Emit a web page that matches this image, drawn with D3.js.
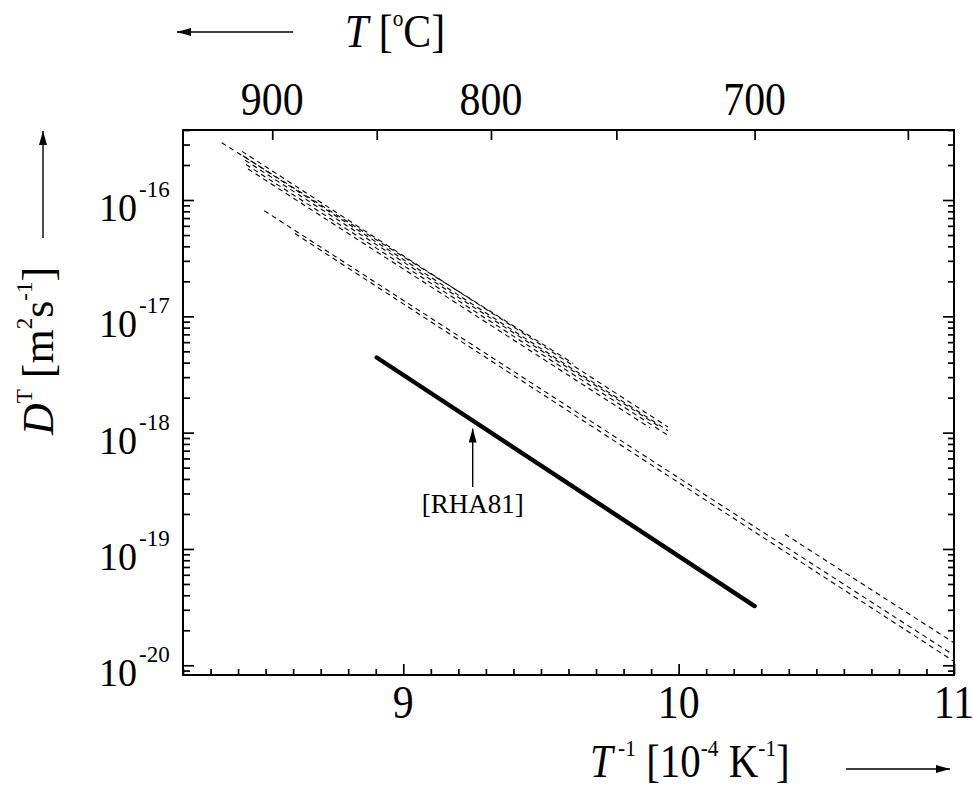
<!DOCTYPE html>
<html>
<head>
<meta charset="utf-8">
<script src="https://cdn.jsdelivr.net/npm/d3@7/dist/d3.min.js"></script>
<style>
  body { margin: 0; background: #fff; }
  svg { display: block; }
  text { font-family: "Liberation Serif", "Times New Roman", serif; fill: #000; }
</style>
</head>
<body>
<svg id="chart" width="973" height="789"></svg>
<script>
// Inverse temperature T^-1 in 10^-4 K^-1, diffusivity D^T in m^2 s^-1.
// Each dashed Arrhenius line is stored by its two end points.
const upper1 = [[8.3405, 3.11e-16], [9.6174, 3.94e-18]];
const upper2 = [[8.4143, 2.62e-16], [9.9613, 1.12e-18]];
const upper3 = [[8.4179, 2.40e-16], [9.9613, 1.04e-18]];
const upper4 = [[8.4252, 2.20e-16], [9.9323, 1.12e-18]];
const upper5 = [[8.4288, 2.02e-16], [9.9577, 9.60e-19]];
const upper6 = [[8.4361, 1.85e-16], [9.8960, 1.10e-18]];
const lower1 = [[8.4952, 8.09e-17], [11.0, 1.22e-20]];
const lower2 = [[8.6067, 5.15e-17], [11.0, 1.08e-20]];
const lowTemp = [[10.386, 1.34e-19], [11.0, 1.56e-20]];

// [RHA81]: 850 °C down to 700 °C
const rha81 = [[8.9035, 4.43e-18], [10.2759, 3.23e-20]];
const rha81Label = "[RHA81]";
const rha81ArrowX = 9.252;

// Axis ticks
const xMajor = [9, 10, 11];
const yDecades = [-20, -19, -18, -17, -16];
const celsiusTicks = [900, 850, 800, 750, 700, 650];
const celsiusLabels = [900, 800, 700];

const svg = d3.select("#chart");
const L = 183, R = 954, T = 130, B = 675;
const SX = 0.89; // horizontal squeeze of the Times-style lettering

const x = d3.scaleLinear().domain([8.2, 11]).range([L, R]);
const y = d3.scaleLog().domain([8.25e-21, 4.0e-16]).range([B, T]);
const toInv = c => 1e4 / (c + 273.15);

// Arrow marker
const defs = svg.append("defs");
defs.append("marker")
  .attr("id", "head")
  .attr("viewBox", "0 0 14 8")
  .attr("refX", 14).attr("refY", 4)
  .attr("markerWidth", 14).attr("markerHeight", 8)
  .attr("markerUnits", "userSpaceOnUse")
  .attr("orient", "auto")
  .append("path").attr("d", "M0,0 L14,4 L0,8 Z").attr("fill", "#000");

// Tick values
const xMinor = d3.range(82, 111).map(v => v / 10).filter(v => !xMajor.includes(v));
const yMajorVals = yDecades.map(e => Math.pow(10, e));
const yMinorVals = [];
for (let e = -21; e <= -16; e++) {
  for (let k = 2; k <= 9; k++) {
    const v = k * Math.pow(10, e);
    if (v >= y.domain()[0] && v <= y.domain()[1]) yMinorVals.push(v);
  }
}

function styleAxis(g) {
  g.select(".domain").remove();
  g.selectAll(".tick line").attr("stroke", "#000").attr("stroke-width", 1.7);
  g.selectAll(".tick text").remove();
}

// Bottom axis (inward ticks)
svg.append("g").attr("transform", `translate(0,${B})`)
  .call(d3.axisBottom(x).tickValues(xMajor).tickSize(-11)).call(styleAxis);
svg.append("g").attr("transform", `translate(0,${B})`)
  .call(d3.axisBottom(x).tickValues(xMinor).tickSize(-6)).call(styleAxis);

// Top axis in °C
svg.append("g").attr("transform", `translate(0,${T})`)
  .call(d3.axisTop(x).tickValues(celsiusTicks.map(toInv)).tickSize(-10)).call(styleAxis);

// Left and right log axes
svg.append("g").attr("transform", `translate(${L},0)`)
  .call(d3.axisLeft(y).tickValues(yMajorVals).tickSize(-11)).call(styleAxis);
svg.append("g").attr("transform", `translate(${L},0)`)
  .call(d3.axisLeft(y).tickValues(yMinorVals).tickSize(-7)).call(styleAxis);
svg.append("g").attr("transform", `translate(${R},0)`)
  .call(d3.axisRight(y).tickValues(yMajorVals).tickSize(-11)).call(styleAxis);
svg.append("g").attr("transform", `translate(${R},0)`)
  .call(d3.axisRight(y).tickValues(yMinorVals).tickSize(-6)).call(styleAxis);

// Frame
svg.append("rect")
  .attr("x", L).attr("y", T).attr("width", R - L).attr("height", B - T)
  .attr("fill", "none").attr("stroke", "#000").attr("stroke-width", 2);

// Tick labels (squeezed horizontally about their own anchor)
svg.append("g").selectAll("text").data(xMajor).join("text")
  .attr("transform", d => `translate(${x(d)},718) scale(${SX},1)`)
  .attr("text-anchor", "middle").attr("font-size", 47)
  .text(d => d);

svg.append("g").selectAll("text").data(celsiusLabels).join("text")
  .attr("transform", d => `translate(${x(toInv(d))},115) scale(${SX},1)`)
  .attr("text-anchor", "middle").attr("font-size", 47)
  .text(d => d);

const yLab = svg.append("g").selectAll("g").data(yDecades).join("g");
yLab.append("text")
  .attr("transform", d => `translate(137,${y(Math.pow(10, d)) + 21}) scale(0.93,1)`)
  .attr("text-anchor", "end").attr("font-size", 41)
  .text("10");
yLab.append("text")
  .attr("transform", d => `translate(139,${y(Math.pow(10, d)) - 3})`)
  .attr("text-anchor", "start").attr("font-size", 23)
  .text(d => d);

// Data lines
const line = d3.line().x(d => x(d[0])).y(d => y(d[1]));
const dashed = [upper1, upper2, upper3, upper4, upper5, upper6, lower1, lower2, lowTemp];
svg.append("g").selectAll("path").data(dashed).join("path")
  .attr("d", line)
  .attr("fill", "none").attr("stroke", "#000").attr("stroke-width", 1.1)
  .attr("stroke-dasharray", "5,4");

svg.append("path").datum(rha81)
  .attr("d", line)
  .attr("fill", "none").attr("stroke", "#000").attr("stroke-width", 4.4)
  .attr("stroke-linecap", "round");

// Annotation arrow pointing at the RHA81 line
const t = (rha81ArrowX - rha81[0][0]) / (rha81[1][0] - rha81[0][0]);
const lineLogY = Math.log10(rha81[0][1]) + t * (Math.log10(rha81[1][1]) - Math.log10(rha81[0][1]));
const tipY = y(Math.pow(10, lineLogY)) + 8;
svg.append("line")
  .attr("x1", x(rha81ArrowX)).attr("x2", x(rha81ArrowX))
  .attr("y1", 487).attr("y2", tipY)
  .attr("stroke", "#000").attr("stroke-width", 1.4)
  .attr("marker-end", "url(#head)");
svg.append("text")
  .attr("x", x(rha81ArrowX)).attr("y", 513)
  .attr("text-anchor", "middle").attr("font-size", 27)
  .text(rha81Label);

// Axis titles
const topTitle = svg.append("text")
  .attr("transform", `translate(345,47) scale(${SX},1)`).attr("font-size", 47);
topTitle.append("tspan").attr("font-style", "italic").text("T");
topTitle.append("tspan").text(" [");
topTitle.append("tspan").attr("font-size", 24).attr("dy", -21).text("o");
topTitle.append("tspan").attr("dy", 21).text("C]");
svg.append("line").attr("x1", 293).attr("x2", 177).attr("y1", 32).attr("y2", 32)
  .attr("stroke", "#000").attr("stroke-width", 1.4).attr("marker-end", "url(#head)");

const bottomTitle = svg.append("text")
  .attr("transform", `translate(590,777) scale(${SX},1)`).attr("font-size", 46);
bottomTitle.append("tspan").attr("font-style", "italic").text("T");
bottomTitle.append("tspan").attr("font-size", 24).attr("dy", -21).text(" -1");
bottomTitle.append("tspan").attr("dy", 21).text(" [10");
bottomTitle.append("tspan").attr("font-size", 24).attr("dy", -21).text("-4");
bottomTitle.append("tspan").attr("dy", 21).text(" K");
bottomTitle.append("tspan").attr("font-size", 24).attr("dy", -21).text("-1");
bottomTitle.append("tspan").attr("dy", 21).text("]");
svg.append("line").attr("x1", 846).attr("x2", 950).attr("y1", 769).attr("y2", 769)
  .attr("stroke", "#000").attr("stroke-width", 1.4).attr("marker-end", "url(#head)");

const leftTitle = svg.append("text")
  .attr("transform", "translate(53,435) rotate(-90)").attr("font-size", 44);
leftTitle.append("tspan").attr("font-style", "italic").text("D");
leftTitle.append("tspan").attr("font-size", 23).attr("dy", -21).text("T");
leftTitle.append("tspan").attr("dy", 21).text(" [m");
leftTitle.append("tspan").attr("font-size", 23).attr("dy", -21).text("2");
leftTitle.append("tspan").attr("dy", 21).text("s");
leftTitle.append("tspan").attr("font-size", 23).attr("dy", -21).text("-1");
leftTitle.append("tspan").attr("dy", 21).text("]");
svg.append("line").attr("x1", 43).attr("x2", 43).attr("y1", 238).attr("y2", 131)
  .attr("stroke", "#000").attr("stroke-width", 1.4).attr("marker-end", "url(#head)");
</script>
</body>
</html>
